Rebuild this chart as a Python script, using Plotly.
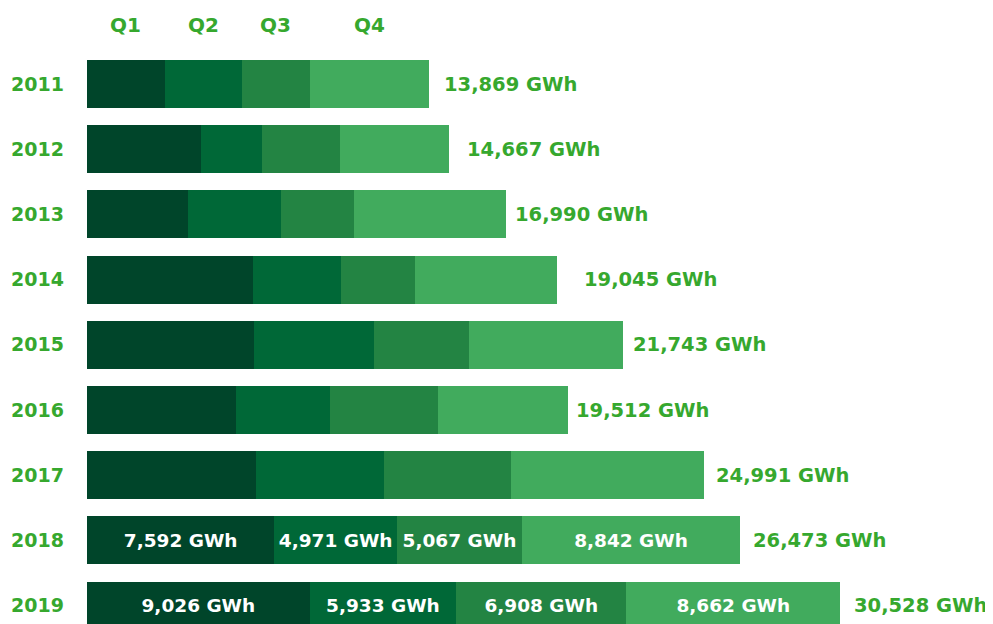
import plotly.graph_objects as go

years = ["2011", "2012", "2013", "2014", "2015", "2016", "2017", "2018", "2019"]
quarters = ["Q1", "Q2", "Q3", "Q4"]
q1 = [3160, 4621, 4094, 6729, 6769, 6040, 6851, 7592, 9026]
q2 = [3115, 2473, 3770, 3567, 4864, 3810, 5189, 4971, 5933]
q3 = [2750, 3162, 2959, 3000, 3851, 4378, 5148, 5067, 6908]
q4 = [4844, 4411, 6167, 5749, 6259, 5284, 7803, 8842, 8662]
totals = [13869, 14667, 16990, 19045, 21743, 19512, 24991, 26473, 30528]
labelled_years = ["2018", "2019"]

COLORS = ["#00452a", "#006837", "#238443", "#41ab5d"]
TEXT_GREEN = "#36a82e"
FONT = "DejaVu Sans"
# gap (px) between each bar end and its total label, as in the original
TOTAL_SHIFT = [13, 16, 7, 25, 8, 6, 10, 11, 12]

y_pos = list(range(len(years)))
fig = go.Figure()

for name, vals, color in zip(quarters, [q1, q2, q3, q4], COLORS):
    fig.add_trace(go.Bar(
        y=y_pos,
        x=vals,
        orientation="h",
        name=name,
        marker_color=color,
        marker_line_width=0,
        width=0.736,
        text=[f"{v:,} GWh" if yr in labelled_years else "" for v, yr in zip(vals, years)],
        textposition="inside",
        insidetextanchor="middle",
        constraintext="none",
        textfont=dict(family=FONT, size=18.5, color="white", weight="bold"),
        hoverinfo="x+name",
    ))

# total labels to the right of each bar
for i, tot in enumerate(totals):
    fig.add_annotation(
        x=tot, y=i, text=f"{tot:,} GWh", showarrow=False,
        xanchor="left", yanchor="middle", xshift=TOTAL_SHIFT[i],
        font=dict(family=FONT, size=19.5, color=TEXT_GREEN, weight="bold"),
    )

# quarter headers centred over the 2011 segments
start = 0
for name, vals in zip(quarters, [q1, q2, q3, q4]):
    fig.add_annotation(
        x=start + vals[0] / 2, y=-0.9, text=name, showarrow=False,
        xanchor="center", yanchor="middle",
        font=dict(family=FONT, size=20, color=TEXT_GREEN, weight="bold"),
    )
    start += vals[0]

# the page body adds an 8px offset, so the figure is 8px smaller each way
fig.update_layout(
    barmode="stack",
    width=985,
    height=616,
    margin=dict(l=79, r=0, t=0, b=0, autoexpand=False),
    plot_bgcolor="white",
    paper_bgcolor="white",
    showlegend=False,
    xaxis=dict(range=[0, 36724], visible=False, fixedrange=True, automargin=False),
    yaxis=dict(
        range=[8.282, -1.166],
        tickvals=y_pos,
        ticktext=years,
        showgrid=False,
        zeroline=False,
        automargin=False,
        ticks="",
        ticklabelstandoff=22,
        tickfont=dict(family=FONT, size=19, color=TEXT_GREEN, weight="bold"),
    ),
)

fig.write_html("out.html")
